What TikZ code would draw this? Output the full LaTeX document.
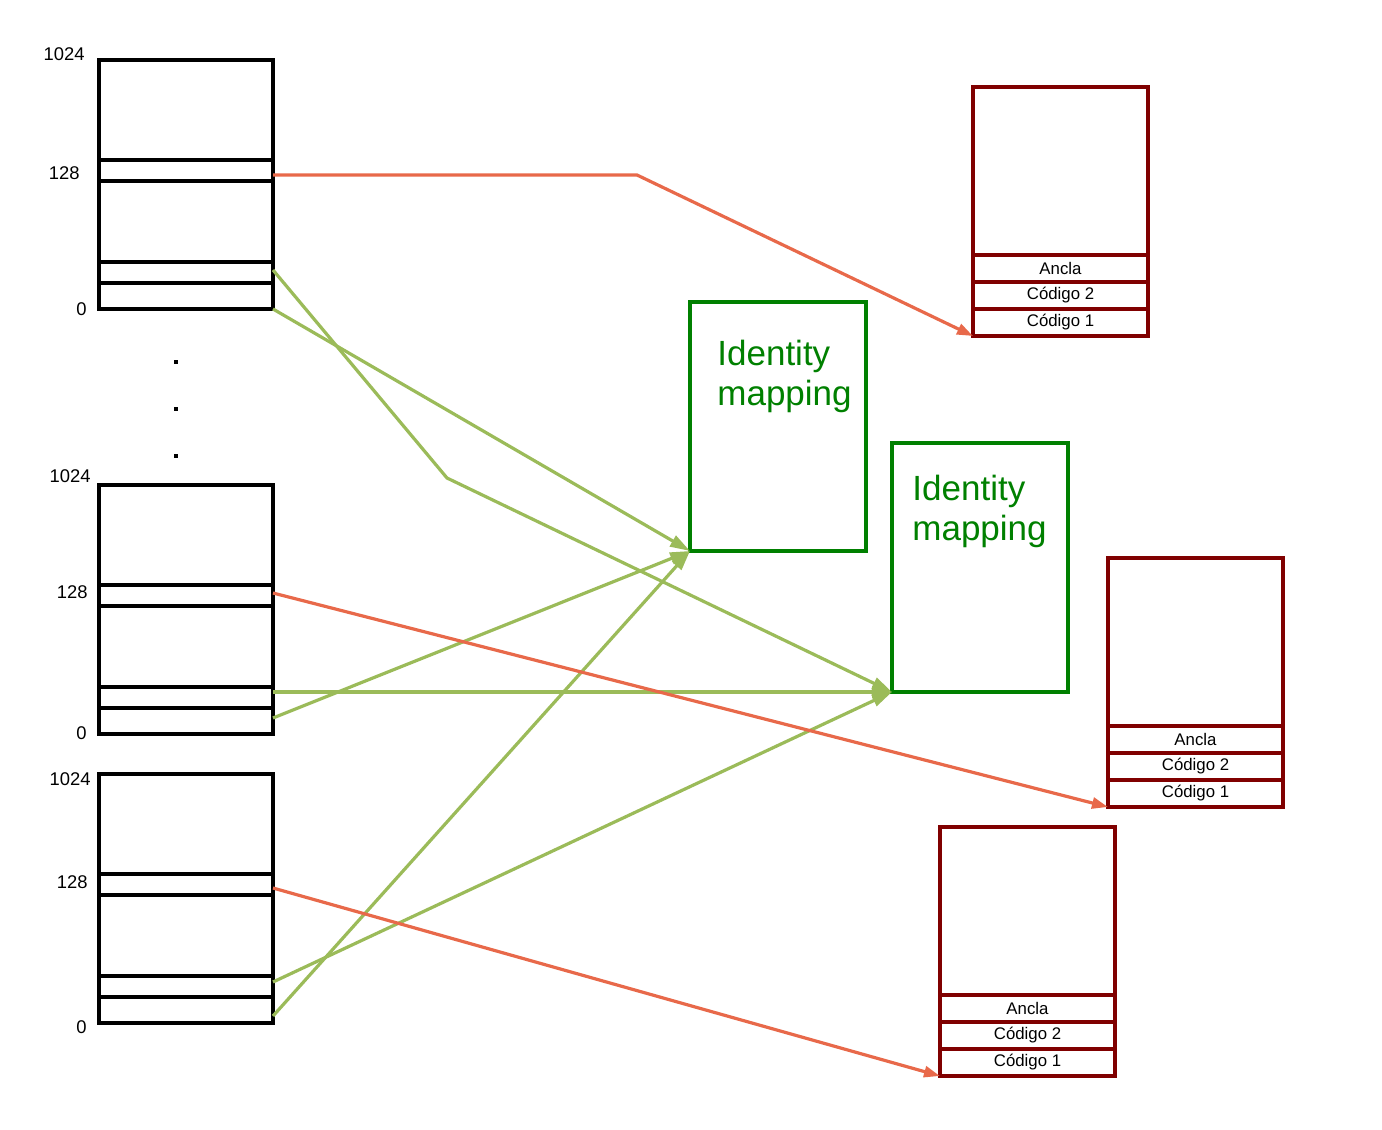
\documentclass[tikz,border=0pt]{standalone}
\usepackage{fontspec}
\setmainfont{Liberation Sans}
\usetikzlibrary{arrows.meta}
\definecolor{ptrred}{HTML}{E8694A}
\definecolor{mapgreen}{HTML}{9BBB59}
\definecolor{idgreen}{HTML}{008000}
\definecolor{pagered}{HTML}{800000}
\tikzset{
	slot/.style={line width=1.9pt},
	pagebox/.style={draw=pagered, line width=1.9pt},
	idbox/.style={draw=idgreen, line width=1.9pt, minimum width=88pt, minimum height=124.5pt, inner sep=0pt, outer sep=0pt, anchor=north west},
	redptr/.style={draw=ptrred, line width=1.6pt, -{Triangle[length=8pt,width=5.5pt]}},
	greenptr/.style={draw=mapgreen, line width=1.6pt, -{Triangle[length=10pt,width=6pt]}},
	addr/.style={font=\fontsize{9.2}{10}\selectfont, anchor=east, inner sep=0pt},
	slottext/.style={font=\fontsize{8.4}{10}\selectfont},
	idtext/.style={text=idgreen, font=\fontsize{17.5}{20}\selectfont, align=left, anchor=north west, inner sep=0pt}
}
\begin{document}
\begin{tikzpicture}[x=0.5pt,y=-0.5pt]
	\useasboundingbox (0,0) rectangle (1382,1130);
	% page tables on the left
	\foreach \n/\t in {a/60,b/485,c/774} {
		\draw[slot] (99,\t) rectangle (273,\t+249);
		\foreach \d in {100,121,202,223}
			\draw[slot] (99,\t+\d) -- (273,\t+\d);
	}
	\node[addr] (a-top) at (85,54) {1024};
	\node[addr] (a-mid) at (80,173) {128};
	\node[addr] (a-bot) at (87,309) {0};
	\node[addr] (b-top) at (91,476) {1024};
	\node[addr] (b-mid) at (88,592) {128};
	\node[addr] (b-bot) at (87,733) {0};
	\node[addr] (c-top) at (91,779) {1024};
	\node[addr] (c-mid) at (88,882) {128};
	\node[addr] (c-bot) at (87,1027) {0};
	\foreach \y in {362,409,456}
		\fill (174,\y-2) rectangle (178,\y+2);
	% entry points
	\coordinate (a-hi) at (273,175);
	\coordinate (a-up) at (273,270);
	\coordinate (a-lo) at (273,309);
	\coordinate (b-hi) at (273,593);
	\coordinate (b-up) at (273,692);
	\coordinate (b-lo) at (273,718);
	\coordinate (c-hi) at (273,888);
	\coordinate (c-up) at (273,982);
	\coordinate (c-lo) at (273,1016);
	\coordinate (a-bend) at (637,175);
	\coordinate (a-knee) at (447,478);
	% pages on the right
	\foreach \n/\x/\t in {p/973/87,q/1108/558,r/940/827} {
		\draw[pagebox] (\x,\t) rectangle (\x+175,\t+249);
		\foreach \d in {168,195,222}
			\draw[pagebox] (\x,\t+\d) -- (\x+175,\t+\d);
		\node[slottext] (\n-anc) at (\x+87.5,\t+181) {Ancla};
		\node[slottext] (\n-c2) at (\x+87.5,\t+208) {Código 2};
		\node[slottext] (\n-c1) at (\x+87.5,\t+235) {Código 1};
		\coordinate (\n-in) at (\x,\t+249);
	}
	% identity mappings
	\node[idbox] (id1) at (690,302) {};
	\node[idbox] (id2) at (892,443) {};
	\node[idtext] (id1-txt) at (717,340) {Identity\\mapping};
	\node[idtext] (id2-txt) at (912,475) {Identity\\mapping};
	% connectors
	\draw[greenptr] (a-up) -- (a-knee) -- (id2.south west);
	\draw[greenptr] (a-lo) -- (id1.south west);
	\draw[greenptr] (b-up) -- (id2.south west);
	\draw[greenptr] (b-lo) -- (id1.south west);
	\draw[greenptr] (c-up) -- (id2.south west);
	\draw[greenptr] (c-lo) -- (id1.south west);
	\draw[redptr] (a-hi) -- (a-bend) -- (p-in);
	\draw[redptr] (b-hi) -- (q-in);
	\draw[redptr] (c-hi) -- (r-in);
\end{tikzpicture}
\end{document}
